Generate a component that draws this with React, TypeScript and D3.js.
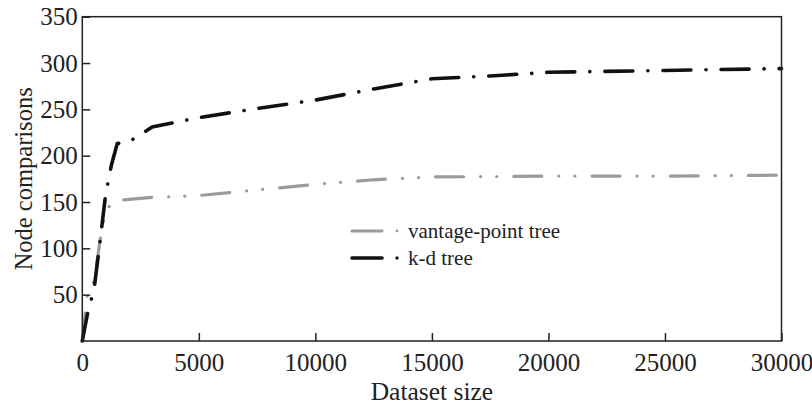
import React, { useEffect, useRef } from 'react';
import * as d3 from 'd3';

// values
const kdSize = [0, 250, 500, 750, 1000, 1250, 1500, 2000, 3000, 5000, 7500, 10000, 12500, 15000, 17500, 20000, 25000, 30000];
const kdComparisons = [0, 33, 55, 105, 158, 190, 213, 215, 231, 241, 251, 260, 272, 283, 286, 290, 292, 294];

const vpSize = [0, 200, 400, 600, 800, 1000, 1300, 1600, 3000, 5000, 7500, 10000, 12500, 15000, 20000, 25000, 30000];
const vpComparisons = [0, 48, 52, 80, 115, 140, 150, 152, 155, 157, 163, 169, 174, 177, 178, 178, 179];

const xTicks = [0, 5000, 10000, 15000, 20000, 25000, 30000];
const yTicks = [50, 100, 150, 200, 250, 300, 350];

const seriesNames = ['vantage-point tree', 'k-d tree'];

const W = 812;
const H = 405;
const margin = { top: 16.7, right: 30.5, bottom: 64, left: 82.3 };
const font = '"Liberation Serif", "Times New Roman", serif';

const App = () => {
  const ref = useRef<SVGSVGElement>(null);

  useEffect(() => {
    const svg = d3.select(ref.current);
    svg.selectAll('*').remove();

    const x = d3.scaleLinear().domain([0, 30000]).range([margin.left, W - margin.right]);
    const y = d3.scaleLinear().domain([0, 350]).range([H - margin.bottom, margin.top]);

    const line = d3.line<[number, number]>()
      .x(d => x(d[0]))
      .y(d => y(d[1]));

    const vp = vpSize.map((s, i) => [s, vpComparisons[i]] as [number, number]);
    const kd = kdSize.map((s, i) => [s, kdComparisons[i]] as [number, number]);

    // series
    svg.append('path')
      .datum(vp)
      .attr('fill', 'none')
      .attr('stroke', '#9b9b9b')
      .attr('stroke-width', 3.2)
      .attr('stroke-linecap', 'round')
      .attr('stroke-dasharray', '28 17 0.1 16 0.1 17')
      .attr('d', line);

    svg.append('path')
      .datum(kd)
      .attr('fill', 'none')
      .attr('stroke', '#111')
      .attr('stroke-width', 3.6)
      .attr('stroke-linecap', 'round')
      .attr('stroke-dasharray', '28 15 0.1 15')
      .attr('d', line);

    // frame
    svg.append('rect')
      .attr('x', margin.left)
      .attr('y', margin.top)
      .attr('width', W - margin.left - margin.right)
      .attr('height', H - margin.top - margin.bottom)
      .attr('fill', 'none')
      .attr('stroke', '#222')
      .attr('stroke-width', 1.5);

    // axes, ticks pointing inward
    const xAxis = svg.append('g')
      .attr('transform', `translate(0,${H - margin.bottom})`)
      .call(d3.axisBottom(x).tickValues(xTicks).tickSizeInner(-8).tickSizeOuter(0).tickPadding(12).tickFormat(d3.format('d')));
    xAxis.select('.domain').remove();
    xAxis.selectAll('line').attr('stroke', '#222').attr('stroke-width', 1.5);
    xAxis.selectAll('text')
      .style('font-family', font)
      .style('font-size', '25px')
      .attr('fill', '#222');

    const yAxis = svg.append('g')
      .attr('transform', `translate(${margin.left},0)`)
      .call(d3.axisLeft(y).tickValues(yTicks).tickSizeInner(-8).tickSizeOuter(0).tickPadding(4.5));
    yAxis.select('.domain').remove();
    yAxis.selectAll('line').attr('stroke', '#222').attr('stroke-width', 1.5);
    yAxis.selectAll('text')
      .style('font-family', font)
      .style('font-size', '25px')
      .attr('fill', '#222');

    // axis titles
    svg.append('text')
      .attr('x', (margin.left + W - margin.right) / 2)
      .attr('y', 400)
      .attr('text-anchor', 'middle')
      .style('font-family', font)
      .style('font-size', '25.5px')
      .attr('fill', '#222')
      .text('Dataset size');

    svg.append('text')
      .attr('transform', `translate(32,${(margin.top + H - margin.bottom) / 2}) rotate(-90)`)
      .attr('text-anchor', 'middle')
      .style('font-family', font)
      .style('font-size', '24.5px')
      .attr('fill', '#222')
      .text('Node comparisons');

    // legend
    const legend = svg.append('g').attr('transform', 'translate(352,231)');
    const colors = ['#9b9b9b', '#111'];
    seriesNames.forEach((name, i) => {
      const g = legend.append('g').attr('transform', `translate(0,${i * 27})`);
      g.append('line')
        .attr('x1', 0).attr('x2', 30)
        .attr('stroke', colors[i])
        .attr('stroke-width', i === 0 ? 3.2 : 3.6)
        .attr('stroke-linecap', 'round');
      g.append('circle')
        .attr('cx', 45).attr('r', i === 0 ? 1.4 : 1.7)
        .attr('fill', colors[i]);
      g.append('text')
        .attr('x', 56)
        .attr('y', 6.5)
        .style('font-family', font)
        .style('font-size', '21px')
        .attr('fill', '#222')
        .text(name);
    });
  }, []);

  return (
    <div style={{ position: 'absolute', left: 0, top: 0 }}>
      <svg ref={ref} width={W} height={H} style={{ display: 'block', background: '#fff' }} />
    </div>
  );
};

export default App;
